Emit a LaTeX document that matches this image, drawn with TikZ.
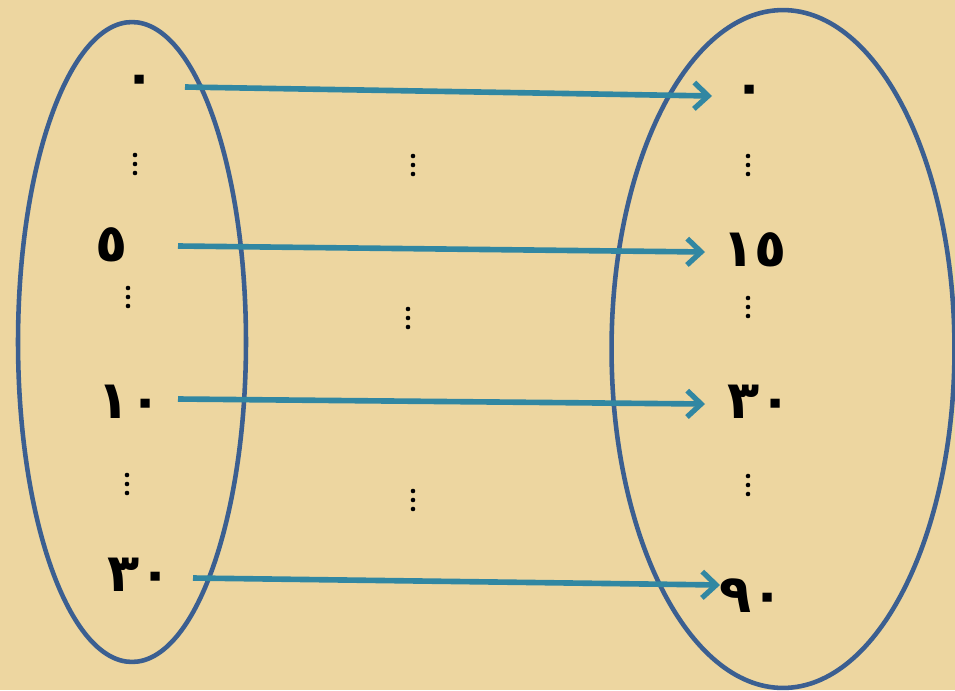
\documentclass[tikz,border=0pt]{standalone}
\usepackage{fontspec}
\newfontfamily\arabicfont[Script=Arabic]{DejaVu Sans}
\usetikzlibrary{arrows.meta}
\definecolor{papyrus}{RGB}{237,214,160}
\definecolor{setblue}{RGB}{59,95,145}
\definecolor{maparrow}{RGB}{49,135,162}
\tikzset{
  num/.style={font=\arabicfont\bfseries\fontsize{30}{30}\selectfont, inner sep=0pt},
  vdots/.pic={\foreach \d in {-9,0,9} \fill (0,\d) circle[radius=1.3pt];},
  setline/.style={draw=setblue, line width=2.6pt},
  maparr/.style={draw=maparrow, line width=3.2pt,
    -{Straight Barb[length=8pt,width=15pt,line width=3pt]}}
}
\begin{document}
\begin{tikzpicture}[x=0.02cm,y=-0.02cm]
                \fill[papyrus] (0,0) rectangle (955,690);
                \useasboundingbox (0,0) rectangle (955,690);
                % the two sets
                \draw[setline] (132,342) ellipse[x radius=2.28cm,y radius=6.4cm];
                \draw[setline] (783,349) ellipse[x radius=3.43cm,y radius=6.78cm];
                % left set
                \node[num] (l0) at (140,85) {٠};
                \node[num] (l5) at (112,245) {٥};
                \node[num] (l10) at (130,402) {١٠};
                \node[num] (l30) at (140,575) {٣٠};
                \pic at (135,164) {vdots};
                \pic at (128,297) {vdots};
                \pic at (127,484) {vdots};
                % right set
                \node[num] (r0) at (750,95) {٠};
                \node[num] (r15) at (755,250) {١٥};
                \node[num] (r30) at (760,402) {٣٠};
                \node[num] (r90) at (752,596) {٩٠};
                \pic at (748,165) {vdots};
                \pic at (748,307) {vdots};
                \pic at (748,485) {vdots};
                % dots between
                \pic at (413,165) {vdots};
                \pic at (408,318) {vdots};
                \pic at (413,500) {vdots};
                % arrows
                \coordinate (s1) at (185,87);  \coordinate (t1) at (712,96);
                \coordinate (s2) at (178,246); \coordinate (t2) at (705,252);
                \coordinate (s3) at (178,399); \coordinate (t3) at (705,404);
                \coordinate (s4) at (193,578); \coordinate (t4) at (720,585);
                \draw[maparr] (s1)--(t1);
                \draw[maparr] (s2)--(t2);
                \draw[maparr] (s3)--(t3);
                \draw[maparr] (s4)--(t4);
            \end{tikzpicture}
\end{document}
